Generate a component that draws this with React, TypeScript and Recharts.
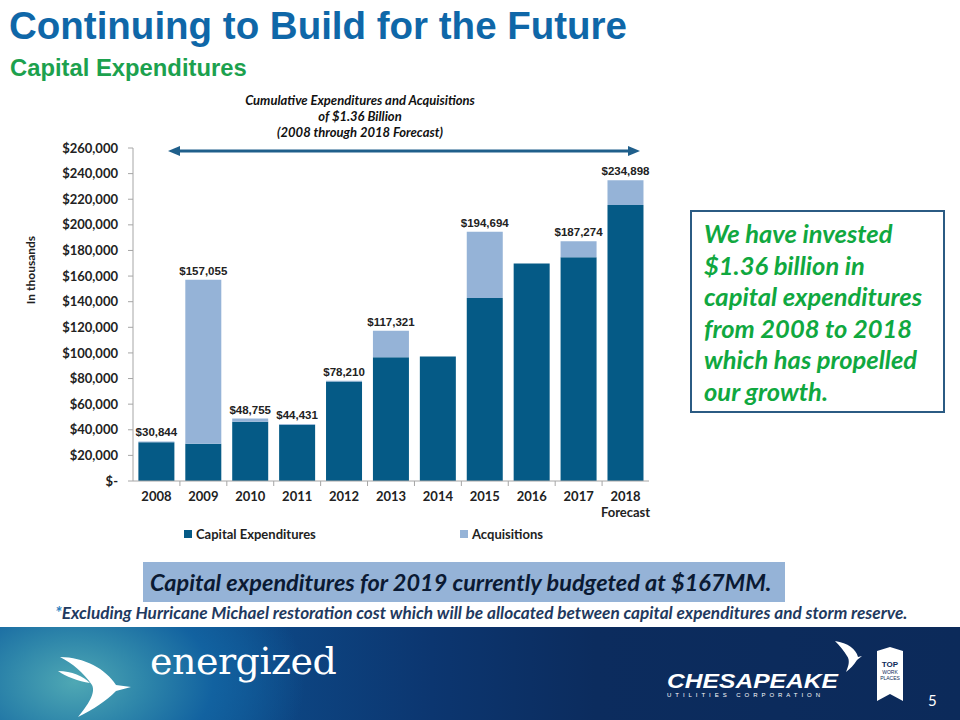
import React from "react";
import { Bar, BarChart, XAxis, YAxis, LabelList, Legend } from "recharts";

const years = ["2008", "2009", "2010", "2011", "2012", "2013", "2014", "2015", "2016", "2017", "2018"];
const capex = [30300, 29000, 46300, 43900, 77700, 96600, 97164, 142900, 169861, 174700, 215500];
const acquisitions = [544, 128055, 2455, 531, 510, 20721, 0, 51794, 0, 12574, 19398];
const totals = [30844, 157055, 48755, 44431, 78210, 117321, 97164, 194694, 169861, 187274, 234898];
const yTicks = [0, 20000, 40000, 60000, 80000, 100000, 120000, 140000, 160000, 180000, 200000, 220000, 240000, 260000];

const DARK = "#055A86";
const LIGHT = "#95B3D7";
const calibri = "Lato, 'Open Sans', sans-serif";
const arial = "'Liberation Sans', Arial, sans-serif";

const data = years.map((y, i) => ({
  year: y,
  capex: capex[i],
  acq: acquisitions[i],
  total: totals[i],
}));

const fmtMoney = (v: number) => (v === 0 ? "$-" : "$" + v.toLocaleString("en-US"));

// category tick + excel-style divider marks between categories
function YearTick(props: any) {
  const { x, y, payload, index } = props;
  const step = 516 / years.length;
  return (
    <g>
      {index < years.length - 1 && (
        <line x1={x + step / 2} x2={x + step / 2} y1={481} y2={486} stroke="#A6A6A6" />
      )}
      <text x={x} y={y} dy={12} textAnchor="middle" fontFamily={calibri} fontWeight={700} fontSize={13} fill="#222">
        {payload.value}
      </text>
      {payload.value === "2018" && (
        <text x={x} y={y} dy={28} textAnchor="middle" fontFamily={calibri} fontWeight={700} fontSize={13} fill="#222">
          Forecast
        </text>
      )}
    </g>
  );
}

function LegendBox() {
  const item = (color: string, label: string, left: number) => (
    <div style={{ position: "absolute", left, top: 0, display: "flex", alignItems: "center", whiteSpace: "nowrap" }}>
      <span style={{ width: 8, height: 8, background: color, display: "inline-block", marginRight: 4 }} />
      <span style={{ fontFamily: calibri, fontWeight: 700, fontSize: 13, color: "#222" }}>{label}</span>
    </div>
  );
  return (
    <div style={{ position: "relative", height: 18 }}>
      {item(DARK, "Capital Expenditures", 0)}
      {item(LIGHT, "Acquisitions", 276)}
    </div>
  );
}

function CapexChart() {
  return (
    <BarChart
      width={700}
      height={560}
      data={data}
      margin={{ top: 148, right: 51, left: 0, bottom: 34 }}
      barCategoryGap="11.5%"
    >
      <XAxis
        dataKey="year"
        height={45}
        stroke="#A6A6A6"
        tickLine={false}
        interval={0}
        tick={<YearTick />}
      />
      <YAxis
        width={133}
        domain={[0, 260000]}
        ticks={yTicks}
        interval={0}
        stroke="#A6A6A6"
        tickSize={5}
        tickMargin={10}
        tickFormatter={fmtMoney}
        tick={{ fontFamily: calibri, fontWeight: 700, fontSize: 13, fill: "#222" }}
      />
      <Legend
        layout="horizontal"
        verticalAlign="middle"
        align="center"
        content={() => <LegendBox />}
        wrapperStyle={{ position: "absolute", top: 526, left: 184, width: 420 }}
      />
      <Bar dataKey="capex" stackId="a" fill={DARK} name="Capital Expenditures" isAnimationActive={false} />
      <Bar dataKey="acq" stackId="a" fill={LIGHT} name="Acquisitions" isAnimationActive={false}>
        <LabelList
          dataKey="total"
          position="top"
          offset={5}
          formatter={(v: any) => fmtMoney(Number(v))}
          style={{ fontFamily: arial, fontWeight: 700, fontSize: 11.5, fill: "#222" }}
        />
      </Bar>
    </BarChart>
  );
}

function Footer() {
  return (
    <div
      style={{
        position: "absolute",
        left: 0,
        top: 627,
        width: 960,
        height: 93,
        background:
          "radial-gradient(ellipse 230px 150px at 75px 55px, #4FA8B4 0%, #2E86AA 30%, #1262A0 60%, rgba(14,80,140,0) 100%), linear-gradient(90deg, #0E5A98 0%, #0D4A88 25%, #0C3670 45%, #0C2C5E 62%, #0C2A5A 100%)",
      }}
    >
      <svg width={960} height={93} style={{ position: "absolute", left: 0, top: 0 }}>
        {/* bird mark */}
        <path d="M60 30 C 84 30, 106 42, 116 58 L 131 60 L 116 64 C 106 74, 94 82, 78 90 C 88 78, 96 66, 92 58 C 84 46, 72 36, 60 30 Z" fill="#fff" />
        <path d="M58 44 C 72 44, 83 49, 90 56 C 78 54, 67 50, 58 44 Z" fill="#fff" />
        {/* chesapeake bird */}
        <path d="M835 14 C 848 16, 856 22, 858 30 L 862 29 L 857 33 C 854 38, 850 42, 846 45 C 849 38, 850 33, 847 29 C 844 24, 840 19, 835 14 Z" fill="#fff" />
        {/* top work places badge */}
        <path d="M877 24 L 890 20 L 903 24 L 903 74 L 890 67 L 877 74 Z" fill="#fff" />
        <text x={890} y={40} textAnchor="middle" fontFamily={arial} fontWeight={700} fontSize={8} fill="#0C2A5A">TOP</text>
        <text x={890} y={47} textAnchor="middle" fontFamily={arial} fontSize={5} fill="#0C2A5A">WORK</text>
        <text x={890} y={53} textAnchor="middle" fontFamily={arial} fontSize={5} fill="#0C2A5A">PLACES</text>
        <text x={667} y={61} fontFamily={arial} fontWeight={700} fontStyle="italic" fontSize={21} fill="#fff" textLength={171} lengthAdjust="spacingAndGlyphs">
          CHESAPEAKE
        </text>
        <text x={667} y={70} fontFamily={arial} fontSize={6} fill="#fff" textLength={155} letterSpacing={2}>
          UTILITIES CORPORATION
        </text>
        <text x={928} y={79} fontFamily={calibri} fontSize={15} fill="#fff">5</text>
      </svg>
      <div
        style={{
          position: "absolute",
          left: 150,
          top: 12,
          fontFamily: "'DejaVu Serif', 'Liberation Serif', serif",
          fontWeight: 300,
          fontSize: 38,
          color: "#fff",
          letterSpacing: -0.5,
        }}
      >
        energized
      </div>
    </div>
  );
}

export default function App() {
  return (
    <div style={{ position: "absolute", left: 0, top: 0, width: 960, height: 720, background: "#fff", overflow: "hidden" }}>
      <div style={{ position: "absolute", left: 9, top: 4, fontFamily: arial, fontWeight: 700, fontSize: 38.5, color: "#0F67A8", whiteSpace: "nowrap" }}>
        Continuing to Build for the Future
      </div>
      <div style={{ position: "absolute", left: 10, top: 54, fontFamily: arial, fontWeight: 700, fontSize: 23.8, color: "#1CA14E", whiteSpace: "nowrap" }}>
        Capital Expenditures
      </div>
      <div style={{ position: "absolute", left: 210, top: 92, width: 300, textAlign: "center", fontFamily: calibri, fontWeight: 700, fontStyle: "italic", fontSize: 13, lineHeight: "16px", color: "#111" }}>
        Cumulative Expenditures and Acquisitions
        <br />
        of $1.36 Billion
        <br />
        (2008 through 2018 Forecast)
      </div>
      <div style={{ position: "absolute", left: 0, top: 0 }}>
        <CapexChart />
      </div>
      <svg width={960} height={720} style={{ position: "absolute", left: 0, top: 0, pointerEvents: "none" }}>
        <line x1={176} y1={151} x2={632} y2={151} stroke="#1F5F8B" strokeWidth={3} />
        <path d="M168 151 L 180 146 L 180 156 Z" fill="#1F5F8B" />
        <path d="M640 151 L 628 146 L 628 156 Z" fill="#1F5F8B" />
      </svg>
      <div style={{ position: "absolute", left: 30, top: 270, transform: "translate(-50%, -50%) rotate(-90deg)", fontFamily: calibri, fontWeight: 700, fontSize: 12, color: "#222", whiteSpace: "nowrap" }}>
        In thousands
      </div>
      <div
        style={{
          position: "absolute",
          left: 690,
          top: 210,
          border: "2px solid #2B5B83",
          boxSizing: "content-box",
          padding: "6px 0 0 12px",
          fontFamily: calibri,
          fontWeight: 700,
          fontStyle: "italic",
          fontSize: 25.5,
          lineHeight: "31.5px",
          color: "#10A83F",
          whiteSpace: "nowrap",
          width: 239,
          height: 193,
        }}
      >
        We have invested
        <br />
        $1.36 billion in
        <br />
        capital expenditures
        <br />
        from 2008 to 2018
        <br />
        which has propelled
        <br />
        our growth.
      </div>
      <div
        style={{
          position: "absolute",
          left: 143,
          top: 562,
          width: 642,
          height: 40,
          background: "#95B3D7",
          fontFamily: calibri,
          fontWeight: 700,
          fontStyle: "italic",
          fontSize: 23.5,
          lineHeight: "40px",
          color: "#0B1A33",
          paddingLeft: 7,
          boxSizing: "border-box",
          whiteSpace: "nowrap",
        }}
      >
        Capital expenditures for 2019 currently budgeted at $167MM.
      </div>
      <div
        style={{
          position: "absolute",
          left: 55,
          top: 602,
          fontFamily: calibri,
          fontWeight: 700,
          fontStyle: "italic",
          fontSize: 17.2,
          color: "#1F3A60",
          whiteSpace: "nowrap",
        }}
      >
        <span style={{ color: "#2E7FC0" }}>*</span>Excluding Hurricane Michael restoration cost which will be allocated between capital expenditures and storm reserve.
      </div>
      <Footer />
    </div>
  );
}
